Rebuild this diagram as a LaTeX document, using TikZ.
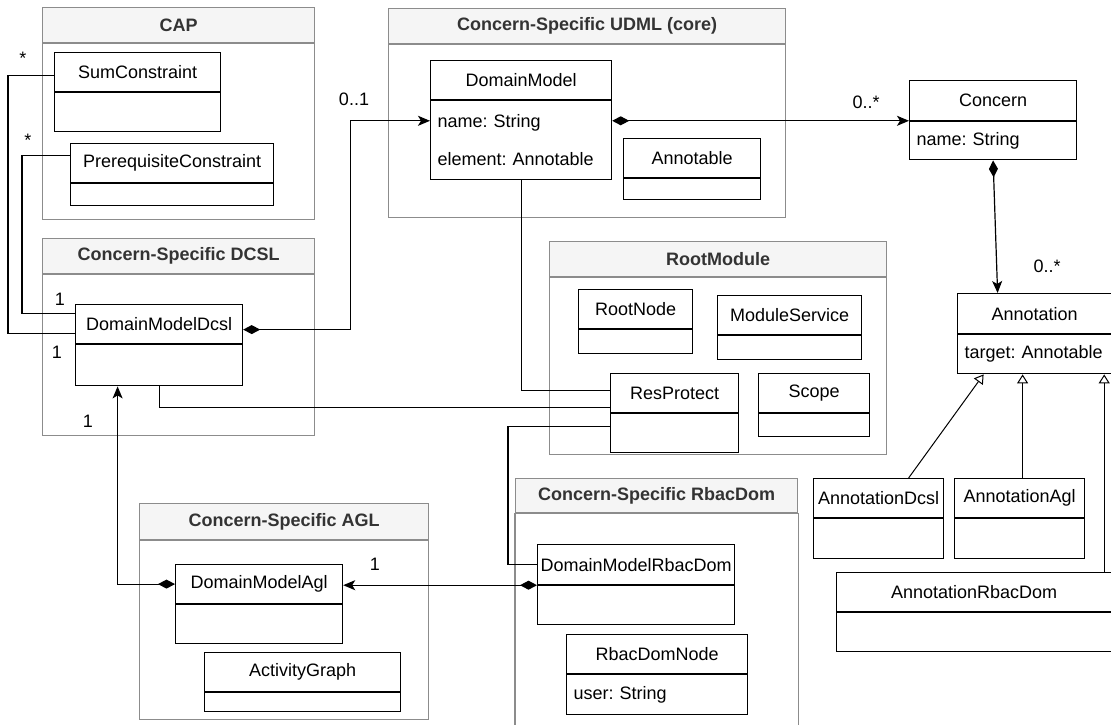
\documentclass[tikz,border=0pt]{standalone}
\usepackage{fontspec}
\setmainfont{Liberation Sans}
\usepackage{xcolor}
\usetikzlibrary{arrows.meta, positioning, calc}

\definecolor{pkggray}{HTML}{8C8C8C}
\definecolor{pkgfill}{HTML}{F5F5F5}
\definecolor{pkgtext}{HTML}{333333}

\begin{document}
\frenchspacing
\begin{tikzpicture}[
        x=1pt, y=-1pt,
        font=\fontsize{18}{21}\selectfont,
        clshead/.style={
            rectangle, draw=black, line width=1.2pt,
            fill=white, inner sep=2pt, anchor=north west
        },
        clsbody/.style={
            rectangle, draw=black, line width=1.2pt,
            fill=white, inner sep=2pt, anchor=north west
        },
        attrs/.style={clsbody, align=left, inner xsep=7pt},
        pkghead/.style={
            rectangle, draw=pkggray, line width=1.2pt,
            fill=pkgfill, text=pkgtext, inner sep=2pt,
            font=\fontsize{18}{21}\selectfont\bfseries, anchor=north west
        },
        pkgbody/.style={
            rectangle, draw=pkggray, line width=1.2pt, anchor=north west
        },
        pkgline/.style={draw=pkggray, line width=1.2pt},
        assoc/.style={line width=1.2pt, black},
        comp/.style={assoc, {Diamond[length=17pt,width=9pt]}-{Stealth[length=12pt,width=10pt,inset=3pt]}},
        gen/.style={line width=1pt, black, -{Triangle[open,length=9pt,width=11pt]}},
        mult/.style={anchor=base, inner sep=0pt}
    ]
    \fill[white] (0,0) rectangle (1111,725);
    \useasboundingbox (0,0) rectangle (1111,725);
    % packages
    \node[pkghead, minimum width=272pt, minimum height=35pt] (caph) at (42,7) {CAP};
    \node[pkgbody, minimum width=272pt, minimum height=176pt] (capb) at (caph.south west) {};
    \node[pkghead, minimum width=397pt, minimum height=35pt] (udmlh) at (388,8) {Concern-Specific UDML (core)};
    \node[pkgbody, minimum width=397pt, minimum height=173pt] (udmlb) at (udmlh.south west) {};
    \node[pkghead, minimum width=272pt, minimum height=35pt] (dcslh) at (42,238) {Concern-Specific DCSL};
    \node[pkgbody, minimum width=272pt, minimum height=161pt] (dcslb) at (dcslh.south west) {};
    \node[pkghead, minimum width=337pt, minimum height=35pt] (rooth) at (549,241) {RootModule};
    \node[pkgbody, minimum width=337pt, minimum height=177pt] (rootb) at (rooth.south west) {};
    \node[pkghead, minimum width=289pt, minimum height=36pt] (aglh) at (139,503) {Concern-Specific AGL};
    \node[pkgbody, minimum width=289pt, minimum height=179pt] (aglb) at (aglh.south west) {};
    \node[pkghead, minimum width=282pt, minimum height=34pt] (rbach) at (515,478) {Concern-Specific RbacDom};
    \node[pkgbody, draw=none, minimum width=282pt, minimum height=213pt] (rbacb) at (rbach.south west) {};
    \draw[pkgline] (rbacb.south west) -- (rbacb.north west) -- (rbacb.north east) -- (rbacb.south east);

    % classes
    \node[clshead, minimum width=166pt, minimum height=39pt] (sumh) at (54,52) {SumConstraint};
    \node[clsbody, minimum width=166pt, minimum height=39pt] (sumb) at (sumh.south west) {};
    \node[clshead, minimum width=203pt, minimum height=39pt] (prqh) at (70,143) {PrerequisiteConstraint};
    \node[clsbody, minimum width=203pt, minimum height=22pt] (prqb) at (prqh.south west) {};
    \node[clshead, minimum width=181pt, minimum height=39pt] (dmh) at (430,60) {DomainModel};
    \node[attrs, text width=167pt, minimum height=79pt] (dmb) at (dmh.south west) {name: String\\[17pt]element: Annotable};
    \node[clshead, minimum width=137pt, minimum height=39pt] (annh) at (623,138) {Annotable};
    \node[clsbody, minimum width=137pt, minimum height=21pt] (annb) at (annh.south west) {};
    \node[clshead, minimum width=167pt, minimum height=40pt] (cnh) at (909,80) {Concern};
    \node[attrs, text width=153pt, minimum height=38pt] (cnb) at (cnh.south west) {name: String};
    \node[clshead, minimum width=154pt, minimum height=40pt] (anh) at (957,293) {Annotation};
    \node[attrs, inner xsep=7pt, text width=140pt, minimum height=39pt] (anb) at (anh.south west) {\mbox{target: Annotable}};
    \node[clshead, minimum width=167pt, minimum height=39pt] (dch) at (75,304) {DomainModelDcsl};
    \node[clsbody, minimum width=167pt, minimum height=41pt] (dcb) at (dch.south west) {};
    \node[clshead, minimum width=114pt, minimum height=39pt] (rnh) at (578,289) {RootNode};
    \node[clsbody, minimum width=114pt, minimum height=24pt] (rnb) at (rnh.south west) {};
    \node[clshead, minimum width=144pt, minimum height=39pt] (msh) at (717,295) {ModuleService};
    \node[clsbody, minimum width=144pt, minimum height=24pt] (msb) at (msh.south west) {};
    \node[clshead, minimum width=128pt, minimum height=39pt] (rph) at (610,373) {ResProtect};
    \node[clsbody, minimum width=128pt, minimum height=39pt] (rpb) at (rph.south west) {};
    \node[clshead, minimum width=111pt, minimum height=39pt] (sch) at (758,373) {Scope};
    \node[clsbody, minimum width=111pt, minimum height=23pt] (scb) at (sch.south west) {};
    \node[clshead, minimum width=167pt, minimum height=39pt] (dgh) at (175,564) {DomainModelAgl};
    \node[clsbody, minimum width=167pt, minimum height=39pt] (dgb) at (dgh.south west) {};
    \node[clshead, minimum width=196pt, minimum height=39pt] (agh) at (204,652) {ActivityGraph};
    \node[clsbody, minimum width=196pt, minimum height=19pt] (agb) at (agh.south west) {};
    \node[clshead, minimum width=197pt, minimum height=40pt, inner sep=0pt] (rbh) at (537,544) {DomainModelRbacDom};
    \node[clsbody, minimum width=197pt, minimum height=39pt] (rbb) at (rbh.south west) {};
    \node[clshead, minimum width=181pt, minimum height=39pt] (rdh) at (566,634) {RbacDomNode};
    \node[attrs, text width=167pt, minimum height=40pt] (rdb) at (rdh.south west) {user: String};
    \node[clshead, minimum width=130pt, minimum height=39pt] (adh) at (813,478) {AnnotationDcsl};
    \node[clsbody, minimum width=130pt, minimum height=40pt] (adb) at (adh.south west) {};
    \node[clshead, minimum width=130pt, minimum height=39pt] (aah) at (954,478) {AnnotationAgl};
    \node[clsbody, minimum width=130pt, minimum height=40pt] (aab) at (aah.south west) {};
    \node[clshead, minimum width=275pt, minimum height=39pt] (arh) at (836,572) {AnnotationRbacDom};
    \node[clsbody, minimum width=275pt, minimum height=39pt] (arb) at (arh.south west) {};

    % connectors
    \draw[assoc] ([yshift=-3.5pt]sumh.west) -- ++(-46,0) |- ([yshift=-9.5pt]dch.west);
    \draw[assoc] ([yshift=7.5pt]prqh.west) -- ++(-48,0) |- ([yshift=10.5pt]dch.west);
    \draw[comp] ([yshift=-5.5pt]dch.east) -- ++(107,0) |- ([yshift=19.5pt]dmb.west);
    \coordinate (dmr) at ([yshift=19.5pt]dmb.east);
    \draw[comp] (dmr) -- (dmr -| cnh.west);
    \draw[comp] (cnb.south) -- ([xshift=-37pt]anh.north);
    \draw[assoc] (dmb.south) |- ([yshift=2.5pt]rph.west);
    \draw[assoc] (dcb.south) |- ([yshift=-14.5pt]rph.west);
    \draw[assoc] ([yshift=6.5pt]rpb.west) -- ++(-102,0) |- (rbh.west);
    \draw[comp] (rbh.south west) -- (rbh.south west -| dgh.east);
    \draw[comp] (dgh.west) -| ([xshift=-41.5pt]dcb.south);
    \draw[gen] ([xshift=30pt]adh.north) -- ([xshift=-51pt]anb.south);
    \coordinate (aat) at ([xshift=3pt]aah.north);
    \draw[gen] (aat) -- (aat |- anb.south);
    \coordinate (art) at ([xshift=-8pt]arh.north east);
    \draw[gen] (art) -- (art |- anb.south);

    % multiplicities
    \node[mult] (msum) at (23,64) {*};
    \node[mult] (mprq) at (28,146) {*};
    \node[mult] (mdc1) at (60,305) {1};
    \node[mult] (mdc2) at (57,358) {1};
    \node[mult] (mdc3) at (88,427) {1};
    \node[mult] (mdm) at (354,105) {0..1};
    \node[mult] (mcn) at (866,108) {0..*};
    \node[mult] (man) at (1047,272) {0..*};
    \node[mult] (mdg) at (375,570) {1};
\end{tikzpicture}
\end{document}
